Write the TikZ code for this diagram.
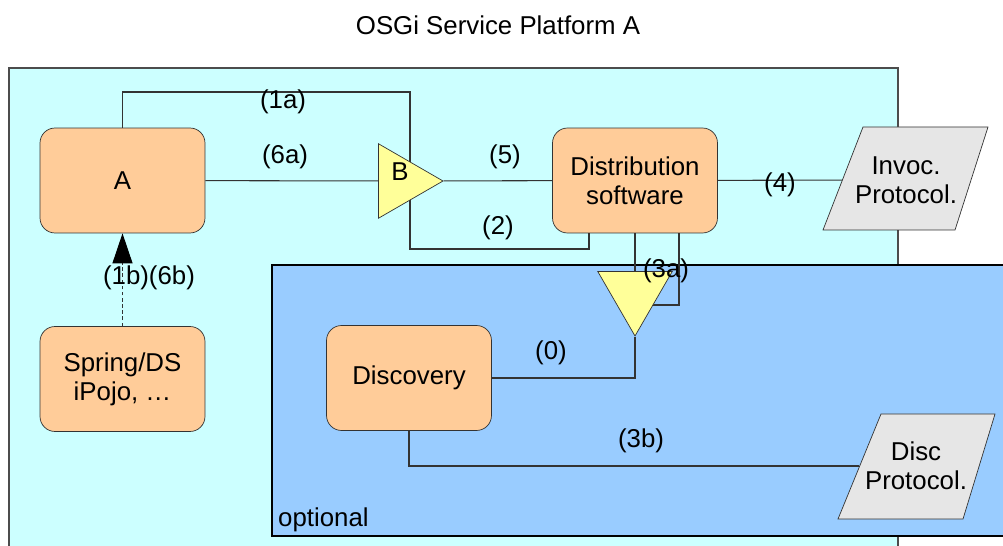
\documentclass[tikz,border=0pt]{standalone}
\usepackage{fontspec}
\setmainfont{Liberation Sans}
\usetikzlibrary{shapes.geometric,arrows.meta}

\pgfdeclarelayer{back}
\pgfdeclarelayer{wires}
\pgfsetlayers{back,wires,main}

\definecolor{platform}{HTML}{CCFFFF}
\definecolor{optarea}{HTML}{99CCFF}
\definecolor{bundle}{HTML}{FFCC99}
\definecolor{proxy}{HTML}{FFFF99}
\definecolor{protogray}{HTML}{E6E6E6}
\definecolor{wire}{HTML}{333333}

\begin{document}
\begin{tikzpicture}[x=0.02cm, y=-0.02cm,
    every node/.style={font=\fontsize{14.7}{16.4}\selectfont},
    box/.style={draw=wire, fill=bundle, rounded corners=0.3cm, minimum width=3.3cm, minimum height=2.1cm, align=center},
    tri/.style={draw=wire, fill=proxy, regular polygon, regular polygon sides=3, minimum size=1.72cm, inner sep=0pt},
    protoshape/.style={draw=wire, fill=protogray},
    link/.style={draw=wire, line width=0.6pt}]

    \useasboundingbox (0,0) rectangle (1003,546);

    % title of the platform
    \node (title) at (498,25) {OSGi Service Platform A};

    % platform area and the optional part (both run off the page)
    \begin{pgfonlayer}{back}
        \fill[white] (0,0) rectangle (1003,546);
        \fill[platform] (9,68) rectangle (898,550);
        \draw[gray!60!black, line width=0.7pt] (9,550) -- (9,68) -- (898,68) -- (898,550);
        \fill[optarea] (272,265) rectangle (1010,536);
        \draw[black, line width=0.7pt] (1010,265) -- (272,265) -- (272,536) -- (1010,536);
    \end{pgfonlayer}
    \node[anchor=west] (optlabel) at (272,520) {optional};

    % bundles
    \node[box] (A) at (122.5,180.5) {A};
    \node[box] (spring) at (122.5,379) {Spring/DS\\iPojo, \dots};
    \node[box] (dist) at (635,180.5) {Distribution\\software};
    \node[box] (disc) at (409,378) {Discovery};

    % proxy B and the discovery hook
    \node[tri, regular polygon rotate=-90, label={[yshift=0.18cm]center:B}] (B) at (400,181) {};
    \node[tri, regular polygon rotate=180] (T3) at (635,293) {};

    % protocols
    \filldraw[protoshape] (863,127) -- (988,127) -- (955,230) -- (823,230) -- cycle;
    \node[align=center] (inv) at (906,180) {Invoc.\\Protocol.};
    \filldraw[protoshape] (881,414) -- (995,414) -- (963,519) -- (838,519) -- cycle;
    \node[align=center] (disp) at (916,466) {Disc\\Protocol.};

    % bends of the connectors
    \coordinate (kB) at (410,92);
    \coordinate (kD) at (589,249);
    \coordinate (kT) at (679,305);

    % connectors, kept under the shapes
    \begin{pgfonlayer}{wires}
        \draw[link] (A.north) |- (kB) -- (kB |- B.center);
        \draw[link] (A) -- (B);
        \draw[link] (B) -- (dist);
        \draw[link] (dist.south -| kD) -- (kD) -| (kB |- B.center);
        \draw[link] (dist) -- (inv);
        \draw[link] (dist) -- (T3);
        \draw[link] (dist.south -| kT) -- (kT) -- (kT -| T3);
        \draw[link] (disc) -| (T3);
        \draw[link] (disc) |- (disp);
        \draw[link, dash pattern=on 2pt off 1.5pt, -{Triangle[length=0.6cm, width=0.4cm, color=black]}] (spring.north) -- (A.south);
    \end{pgfonlayer}

    % labels of the connectors
    \node (lab1a) at (283,102) {(1a)};
    \node (lab6a) at (285,157) {(6a)};
    \node (lab5) at (505,157) {(5)};
    \node (lab2) at (498,228) {(2)};
    \node (lab4) at (780,185) {(4)};
    \node (lab3a) at (666,271) {(3a)};
    \node (lab0) at (551,353) {(0)};
    \node (lab3b) at (641,441) {(3b)};
    \node (lab1b) at (149,278) {(1b)(6b)};

\end{tikzpicture}
\end{document}
